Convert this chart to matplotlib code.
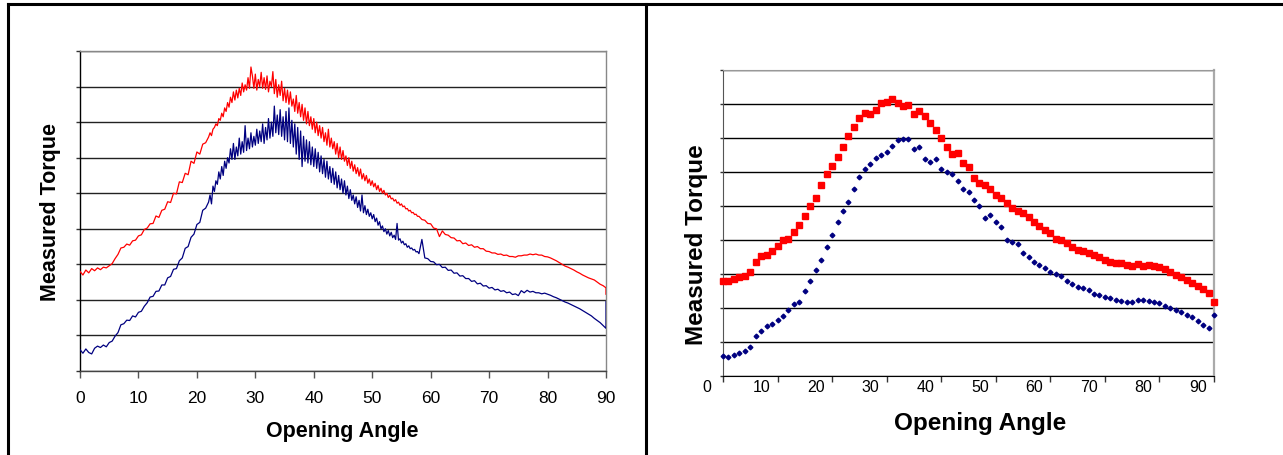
import numpy as np
import matplotlib
matplotlib.use("Agg")
import matplotlib.pyplot as plt
import matplotlib.transforms as mtransforms
from matplotlib.lines import Line2D

plt.rcParams['font.family'] = ['Liberation Sans', 'DejaVu Sans']

# ---- left panel: raw traces (0.5 deg steps, 0.25 deg in the noisy middle part,
#      last point repeats 90 deg for the end jump)
raw_angle = ([i * 0.5 for i in range(44)] + [22 + i * 0.25 for i in range(144)]
             + [58 + i * 0.5 for i in range(65)] + [90.0])
raw_red = [
    # 0 - 21.5
    2.80, 2.70, 2.84, 2.76, 2.88, 2.82, 2.90, 2.85, 2.92, 2.90,
    2.96, 3.02, 3.16, 3.28, 3.46, 3.48, 3.57, 3.54, 3.66, 3.68,
    3.80, 3.83, 3.98, 4.02, 4.14, 4.15, 4.36, 4.32, 4.52, 4.55,
    4.76, 4.74, 5.00, 4.98, 5.32, 5.30, 5.56, 5.52, 5.90, 5.84,
    6.16, 6.10, 6.38, 6.42,
    # 22 - 57.75
    6.58, 6.70, 6.62, 6.80, 6.85, 6.95, 6.90, 7.10, 7.05, 7.25,
    7.15, 7.40, 7.30, 7.55, 7.42, 7.70, 7.55, 7.85, 7.62, 7.90,
    7.68, 7.95, 7.75, 8.10, 7.85, 8.05, 7.90, 8.25, 7.95, 8.55,
    8.30, 7.95, 8.35, 7.90, 8.20, 8.00, 8.40, 7.95, 8.25, 7.92,
    8.30, 7.85, 8.15, 8.00, 8.42, 7.80, 8.20, 7.70, 8.05, 7.75,
    8.15, 7.60, 7.95, 7.55, 7.90, 7.50, 7.85, 7.45, 7.65, 7.30,
    7.75, 7.25, 7.55, 7.15, 7.50, 7.05, 7.40, 6.95, 7.30, 6.90,
    7.15, 6.80, 7.10, 6.70, 7.00, 6.62, 6.90, 6.55, 6.85, 6.45,
    6.70, 6.35, 6.80, 6.30, 6.55, 6.25, 6.45, 6.10, 6.40, 6.00,
    6.30, 5.95, 6.20, 5.90, 6.05, 5.78, 6.00, 5.70, 5.90, 5.62,
    5.80, 5.55, 5.72, 5.48, 5.68, 5.40, 5.55, 5.35, 5.50, 5.28,
    5.40, 5.22, 5.35, 5.18, 5.28, 5.10, 5.22, 5.05, 5.14, 5.00,
    5.08, 4.95, 5.00, 4.88, 4.94, 4.84, 4.86, 4.78, 4.82, 4.72,
    4.75, 4.66, 4.70, 4.62, 4.64, 4.56, 4.57, 4.50, 4.52, 4.45,
    4.46, 4.40, 4.41, 4.35,
    # 58 - 90
    4.35, 4.26, 4.24, 4.15, 4.14, 4.02, 4.00, 3.78, 3.94, 3.84,
    3.82, 3.75, 3.74, 3.66, 3.67, 3.58, 3.60, 3.53, 3.55, 3.48,
    3.50, 3.44, 3.44, 3.37, 3.36, 3.32, 3.32, 3.28, 3.29, 3.25,
    3.26, 3.22, 3.22, 3.20, 3.24, 3.24, 3.26, 3.26, 3.29, 3.27,
    3.29, 3.26, 3.26, 3.22, 3.21, 3.18, 3.14, 3.10, 3.05, 3.00,
    2.95, 2.92, 2.88, 2.84, 2.79, 2.75, 2.70, 2.66, 2.62, 2.59,
    2.56, 2.50, 2.44, 2.40, 2.34,
    2.16,
]
raw_blue = [
    # 0 - 21.5
    0.60, 0.50, 0.62, 0.52, 0.48, 0.64, 0.70, 0.66, 0.73, 0.68,
    0.80, 0.84, 0.98, 1.08, 1.30, 1.33, 1.43, 1.42, 1.55, 1.52,
    1.65, 1.68, 1.82, 1.92, 2.08, 2.10, 2.24, 2.25, 2.42, 2.42,
    2.62, 2.66, 2.86, 2.88, 3.10, 3.18, 3.45, 3.50, 3.76, 3.85,
    4.12, 4.18, 4.52, 4.58,
    # 22 - 57.75
    4.75, 4.95, 4.70, 5.20, 5.05, 5.35, 5.25, 5.60, 5.40, 5.75,
    5.50, 5.90, 5.70, 6.00, 5.85, 6.25, 5.95, 6.40, 5.95, 6.30,
    6.05, 6.55, 6.10, 6.45, 6.15, 6.90, 6.20, 6.55, 6.25, 6.70,
    6.30, 6.60, 6.35, 6.80, 6.40, 6.75, 6.45, 6.95, 6.40, 6.85,
    6.50, 7.10, 6.55, 7.00, 6.60, 7.45, 6.70, 7.20, 6.65, 7.35,
    6.60, 7.15, 6.50, 7.30, 6.45, 7.40, 6.40, 7.05, 6.30, 6.95,
    6.10, 6.85, 5.95, 6.75, 5.75, 6.60, 5.90, 6.50, 5.85, 6.45,
    5.80, 6.30, 5.75, 6.25, 5.70, 6.15, 5.60, 6.05, 5.55, 5.95,
    5.45, 5.90, 5.40, 5.75, 5.30, 5.70, 5.25, 5.60, 5.15, 5.50,
    5.10, 5.40, 5.00, 5.35, 4.95, 5.20, 4.85, 5.10, 4.80, 4.95,
    4.70, 4.90, 4.60, 4.80, 4.50, 4.95, 4.45, 4.65, 4.40, 4.55,
    4.35, 4.45, 4.28, 4.40, 4.20, 4.30, 4.10, 4.20, 4.00, 4.08,
    3.92, 4.00, 3.85, 3.95, 3.80, 3.90, 3.75, 3.82, 3.70, 4.15,
    3.68, 3.72, 3.60, 3.65, 3.55, 3.58, 3.48, 3.52, 3.44, 3.46,
    3.40, 3.42, 3.35, 3.36,
    # 58 - 90
    3.30, 3.70, 3.18, 3.16, 3.08, 3.07, 2.99, 3.00, 2.91, 2.92,
    2.83, 2.84, 2.75, 2.76, 2.67, 2.68, 2.60, 2.60, 2.52, 2.54,
    2.45, 2.47, 2.39, 2.40, 2.33, 2.35, 2.28, 2.30, 2.24, 2.26,
    2.20, 2.22, 2.15, 2.17, 2.12, 2.26, 2.20, 2.27, 2.22, 2.24,
    2.20, 2.20, 2.17, 2.19, 2.16, 2.13, 2.09, 2.06, 2.02, 1.98,
    1.94, 1.91, 1.87, 1.83, 1.79, 1.75, 1.70, 1.65, 1.60, 1.55,
    1.48, 1.42, 1.36, 1.28, 1.20,
    1.95,
]

# ---- right panel: averaged points, one per degree
avg_angle = list(range(91))
avg_red = [
    2.79, 2.79, 2.84, 2.90, 2.94, 3.07, 3.36, 3.53, 3.56, 3.67,
    3.82, 3.99, 4.04, 4.25, 4.44, 4.71, 4.99, 5.24, 5.61, 5.94,
    6.18, 6.45, 6.75, 7.05, 7.33, 7.60, 7.74, 7.70, 7.82, 8.03,
    8.06, 8.16, 8.02, 7.94, 7.96, 7.71, 7.79, 7.66, 7.43, 7.24,
    7.00, 6.75, 6.52, 6.56, 6.27, 6.14, 5.83, 5.67, 5.61, 5.51,
    5.31, 5.24, 5.09, 4.93, 4.86, 4.79, 4.67, 4.52, 4.40, 4.29,
    4.20, 4.04, 4.01, 3.92, 3.79, 3.72, 3.67, 3.61, 3.55, 3.51,
    3.41, 3.36, 3.33, 3.31, 3.27, 3.25, 3.28, 3.25, 3.26, 3.25,
    3.22, 3.14, 3.06, 2.97, 2.90, 2.82, 2.74, 2.65, 2.55, 2.43,
    2.18,
]
avg_blue = [
    0.58, 0.57, 0.61, 0.69, 0.74, 0.85, 1.17, 1.31, 1.47, 1.52,
    1.64, 1.77, 1.94, 2.11, 2.19, 2.49, 2.78, 3.11, 3.42, 3.78,
    4.14, 4.53, 4.86, 5.13, 5.50, 5.85, 6.09, 6.24, 6.40, 6.50,
    6.60, 6.76, 6.95, 6.98, 6.97, 6.68, 6.75, 6.39, 6.28, 6.39,
    6.09, 6.01, 5.95, 5.73, 5.49, 5.41, 5.19, 4.99, 4.65, 4.75,
    4.54, 4.38, 4.01, 3.95, 3.88, 3.63, 3.51, 3.34, 3.26, 3.19,
    3.06, 3.00, 2.94, 2.78, 2.72, 2.62, 2.60, 2.52, 2.41, 2.37,
    2.32, 2.28, 2.25, 2.20, 2.19, 2.18, 2.23, 2.24, 2.21, 2.19,
    2.16, 2.05, 2.01, 1.94, 1.88, 1.79, 1.73, 1.62, 1.50, 1.41,
    1.80,
]

xticks = list(range(0, 91, 10))
RED = '#ff0000'
NAVY = '#000080'

fig = plt.figure(figsize=(12.83, 4.56), dpi=100)

# ---------- left chart
ax1 = fig.add_axes([80 / 1283, 1 - 372 / 456, 526 / 1283, 320 / 456])
ax1.plot(raw_angle, raw_red, color=RED, lw=0.9, zorder=3)
ax1.plot(raw_angle, raw_blue, color=NAVY, lw=0.9, zorder=3)
ax1.set_xlim(0, 90)
ax1.set_ylim(0, 9)
ax1.set_xticks(xticks)
ax1.set_yticks(range(10))
ax1.set_yticklabels([])
ax1.grid(axis='y', color='#222222', lw=1.0)
ax1.tick_params(axis='x', direction='out', length=5, width=1, color='#555555',
                labelsize=12.5, pad=9)
ax1.tick_params(axis='y', direction='out', length=3, width=1, color='#333333')
ax1.spines['left'].set_color('black')
ax1.spines['bottom'].set_color('#444444')
ax1.spines['top'].set_color('#888888')
ax1.spines['right'].set_color('#888888')
for s in ax1.spines.values():
    s.set_linewidth(1.0)
ax1.set_xlabel('Opening Angle', fontsize=15.5, fontweight='bold')
ax1.xaxis.label.set_va('center')
ax1.xaxis.set_label_coords(0.499, -0.1875)
ax1.set_ylabel('Measured Torque', fontsize=15.5, fontweight='bold')
ax1.yaxis.label.set_va('center')
ax1.yaxis.set_label_coords(-0.057, 0.5)

# ---------- right chart
ax2 = fig.add_axes([723 / 1283, 1 - 377 / 456, 491 / 1283, 306 / 456])
ax2.plot(avg_angle, avg_red, ls='none', marker='s', ms=3.7, color=RED,
         mec=RED, clip_on=False, zorder=3)
ax2.plot(avg_angle, avg_blue, ls='none', marker='D', ms=2.4, color=NAVY,
         mec=NAVY, clip_on=False, zorder=4)
ax2.set_xlim(0, 90)
ax2.set_ylim(0, 9)
ax2.set_xticks(xticks)
ax2.set_yticks(range(10))
ax2.set_yticklabels([])
ax2.grid(axis='y', color='black', lw=1.0)
ax2.tick_params(axis='x', direction='out', length=4, width=1, color='#333333',
                labelsize=11.5, pad=-1.5)
ax2.tick_params(axis='y', direction='out', length=2, width=1, color='#333333')
shift = mtransforms.ScaledTranslation(-16 / 100, 0, fig.dpi_scale_trans)
for lab in ax2.get_xticklabels():
    lab.set_transform(lab.get_transform() + shift)
ax2.spines['left'].set_color('#555555')
ax2.spines['bottom'].set_color('black')
ax2.spines['top'].set_color('#999999')
ax2.spines['right'].set_color('#aaaaaa')
ax2.spines['right'].set_linewidth(1.6)
ax2.set_xlabel('Opening Angle', fontsize=17.5, fontweight='bold')
ax2.xaxis.label.set_va('center')
ax2.xaxis.set_label_coords(0.523, -0.152)
ax2.set_ylabel('Measured Torque', fontsize=17.5, fontweight='bold')
ax2.yaxis.label.set_va('center')
ax2.yaxis.set_label_coords(-0.053, 0.431)

# ---------- frame around the two panels
W, H = 1283, 456
fig.add_artist(Line2D([7.5 / W, 1], [1 - 5 / H, 1 - 5 / H], color='black', lw=2.2))
fig.add_artist(Line2D([7.5 / W, 7.5 / W], [0, 1 - 5 / H], color='black', lw=2.2))
fig.add_artist(Line2D([646 / W, 646 / W], [0, 1 - 5 / H], color='black', lw=2.2))

fig.savefig('out.png', dpi=100)
